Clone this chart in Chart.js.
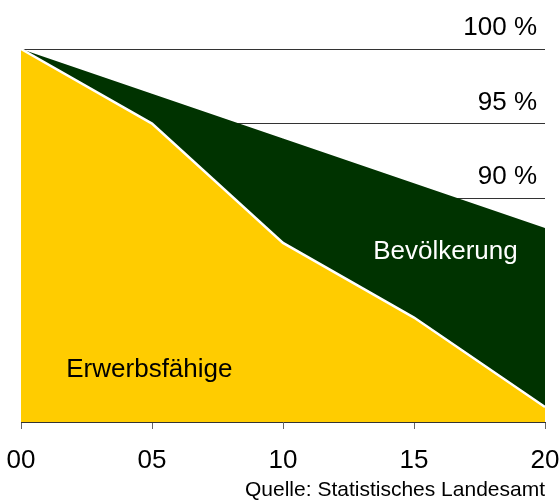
<!DOCTYPE html>
<html lang="de">
<head>
<meta charset="utf-8">
<title>Bevölkerung und Erwerbsfähige</title>
<script src="https://cdn.jsdelivr.net/npm/chart.js@4/dist/chart.umd.min.js"></script>
<style>
    html, body { margin: 0; padding: 0; background: #fff; }
    #wrap { width: 560px; height: 502px; }
</style>
</head>
<body>
<div id="wrap"><canvas id="chart"></canvas></div>
<script>
// ===================== DATEN =====================
const jahre          = ["00", "05", "10", "15", "20"];
const bevoelkerung   = [100, 97, 94, 91, 88];
const erwerbsfaehige = [100, 95, 87, 82, 76];

const yTickWerte  = [100, 95, 90];
const yTickLabels = ["100 %", "95 %", "90 %"];

const quelle = "Quelle: Statistisches Landesamt";

// ===================== FARBEN =====================
const COR_GELB  = "#ffcc00";
const COR_GRUEN = "#003300";
const COR_LINIE = "#333";
const FONT      = "'Liberation Sans', Arial, Helvetica, sans-serif";

// Beschriftung der Flächen (Lage in Achsenwerten)
const flaechenText = [
    { text: "Bevölkerung",   x: 16.2, y: 86.4, farbe: "#fff" },
    { text: "Erwerbsfähige", x: 4.9,  y: 78.5, farbe: "#000" },
];

const textPlugin = {
    id: "flaechenText",
    afterDatasetsDraw(chart) {
        const { ctx, scales } = chart;
        ctx.save();
        ctx.font = "26px " + FONT;
        ctx.textAlign = "center";
        ctx.textBaseline = "middle";
        flaechenText.forEach(t => {
            // x als Jahresindex (5 Jahre = 1 Kategorie)
            const px = scales.x.getPixelForValue(t.x / 5);
            const py = scales.y.getPixelForValue(t.y);
            ctx.fillStyle = t.farbe;
            ctx.fillText(t.text, px, py);
        });
        ctx.restore();
    }
};

new Chart(document.getElementById("chart"), {
    type: "line",
    data: {
        labels: jahre,
        datasets: [
            {
                label: "Erwerbsfähige",
                data: erwerbsfaehige,
                borderColor: "#fff",
                borderWidth: 2.5,
                backgroundColor: COR_GELB,
                fill: "start",
                pointRadius: 0,
                tension: 0,
            },
            {
                label: "Bevölkerung",
                data: bevoelkerung,
                borderColor: COR_GRUEN,
                borderWidth: 0,
                backgroundColor: COR_GRUEN,
                fill: "start",
                pointRadius: 0,
                tension: 0,
            },
        ],
    },
    options: {
        responsive: true,
        maintainAspectRatio: false,
        animation: false,
        layout: { padding: { left: 21, right: 15, top: 49, bottom: 0 } },
        plugins: {
            legend: { display: false },
            tooltip: { enabled: false },
            subtitle: {
                display: true,
                text: quelle,
                position: "bottom",
                align: "end",
                color: "#000",
                font: { family: FONT, size: 21, weight: "normal", lineHeight: 1 },
                padding: { top: 7, bottom: 1 },
            },
        },
        scales: {
            x: {
                z: 1,
                offset: false,
                afterFit: s => { s.height = 51; s.paddingLeft = 0; s.paddingRight = 0; },
                grid: { drawOnChartArea: false, drawTicks: true, tickLength: 7, color: "#666" },
                border: { display: true, color: COR_LINIE, width: 1 },
                ticks: {
                    color: "#000",
                    padding: 19,
                    maxRotation: 0,
                    autoSkip: false,
                    font: { family: FONT, size: 26, lineHeight: 1 },
                },
            },
            y: {
                position: "right",
                min: 75,
                max: 100,
                afterFit: s => { s.width = 0; },
                grid: {
                    color: c => yTickWerte.includes(c.tick.value) ? COR_LINIE : "transparent",
                    lineWidth: 1,
                    drawTicks: false,
                },
                border: { display: false },
                ticks: {
                    stepSize: 5,
                    mirror: true,
                    padding: -8,
                    labelOffset: -21,
                    color: "#000",
                    font: { family: FONT, size: 26, lineHeight: 1 },
                    callback: v => {
                        const i = yTickWerte.indexOf(v);
                        return i >= 0 ? yTickLabels[i] : "";
                    },
                },
            },
        },
    },
    plugins: [textPlugin],
});
</script>
</body>
</html>
